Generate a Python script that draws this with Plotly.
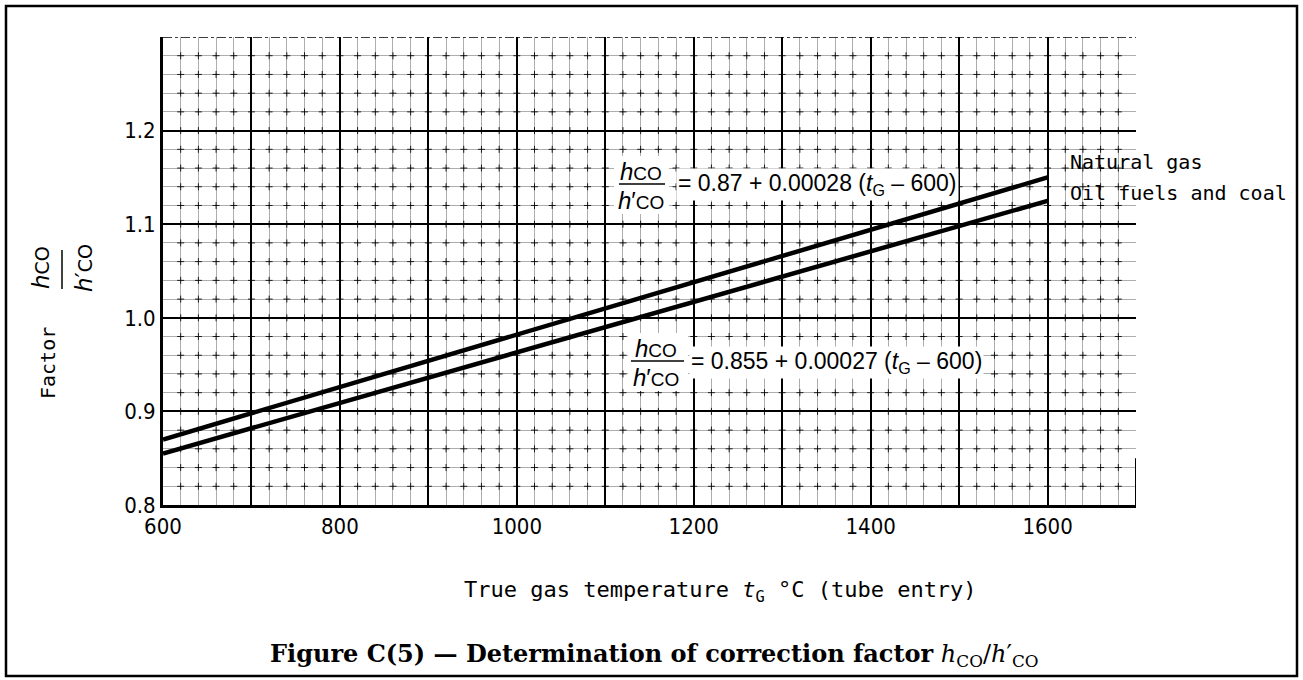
import numpy as np
import plotly.graph_objects as go

# ---------------- data ----------------
temperature = [600, 1600]
natural_gas = [0.87, 1.15]
oil_fuels_coal = [0.855, 1.125]
series_names = ["Natural gas", "Oil fuels and coal"]

x_tick_values = [600, 700, 800, 900, 1000, 1100, 1200, 1300, 1400, 1500, 1600]
x_tick_labels = ["600", "", "800", "", "1000", "", "1200", "", "1400", "", "1600"]
y_tick_values = [0.8, 0.9, 1.0, 1.1, 1.2]
y_tick_labels = ["0.8", "0.9", "1.0", "1.1", "1.2"]

x_range = [600, 1700]
y_range = [0.8, 1.3]
x_minor_step = 20
y_minor_step = 0.02

# ---------------- geometry (page pixels) ----------------
W, H = 1303, 680
L, R, T, B = 163, 1136, 37, 505   # plot area in page pixels


def px(x):
    return (x - L) / (R - L)


def py(y):
    return (B - y) / (B - T)


ISO = "DejaVu Sans Mono, monospace"
ISO_P = "DejaVu Sans, sans-serif"
NARROW = "Liberation Sans Narrow, DejaVu Sans Condensed, Arial Narrow, sans-serif"
HELV = "Liberation Sans, Arial, Helvetica, sans-serif"
SERIF = "DejaVu Serif, Century Schoolbook, serif"

fig = go.Figure()

# cross marks at the minor grid intersections
gx = np.arange(x_range[0] + x_minor_step, x_range[1], x_minor_step)
gy = np.arange(y_range[0] + y_minor_step, y_range[1] - 1e-9, y_minor_step)
GX, GY = np.meshgrid(gx, gy)
fig.add_trace(go.Scatter(
    x=GX.ravel(), y=GY.ravel(), mode="markers",
    marker=dict(symbol="cross-thin", size=5, color="black",
                line=dict(width=1, color="rgba(0,0,0,0.85)")),
    hoverinfo="skip", showlegend=False))

for name, vals in zip(series_names, [natural_gas, oil_fuels_coal]):
    fig.add_trace(go.Scatter(
        x=temperature, y=vals, mode="lines", name=name,
        line=dict(color="black", width=4.5), showlegend=False,
        hoverinfo="skip"))

fig.update_layout(
    width=W, height=H,
    margin=dict(l=L, r=W - R, t=T, b=H - B),
    paper_bgcolor="white", plot_bgcolor="white",
    showlegend=False,
)

fig.update_xaxes(
    range=x_range, tickmode="array", tickvals=x_tick_values, ticktext=x_tick_labels,
    showgrid=True, gridcolor="black", gridwidth=1.6,
    showline=True, linecolor="black", linewidth=3,
    ticks="", ticklabelstandoff=0, zeroline=False,
    tickfont=dict(family=NARROW, size=22, color="black"),
    minor=dict(tick0=600, dtick=x_minor_step, showgrid=True,
               gridcolor="rgba(0,0,0,0.32)", gridwidth=1),
)
fig.update_yaxes(
    range=y_range, tickmode="array", tickvals=y_tick_values, ticktext=y_tick_labels,
    showgrid=True, gridcolor="black", gridwidth=1.6,
    showline=True, linecolor="black", linewidth=3,
    ticks="", ticklabelstandoff=0, zeroline=False,
    tickfont=dict(family=NARROW, size=22, color="black"),
    minor=dict(tick0=0.8, dtick=y_minor_step, showgrid=True,
               gridcolor="rgba(0,0,0,0.32)", gridwidth=1),
)


def rect(x0, x1, y0, y1, fill="white", line=None):
    fig.add_shape(type="rect", xref="paper", yref="paper",
                  x0=px(x0), x1=px(x1), y0=py(y1), y1=py(y0),
                  fillcolor=fill, line=line or dict(width=0), layer="above")


def bar(x0, x1, y0, y1, width=1.5):
    fig.add_shape(type="line", xref="paper", yref="paper", x0=px(x0), x1=px(x1),
                  y0=py(y0), y1=py(y1), line=dict(color="black", width=width))


# outer frame
fig.add_shape(type="rect", xref="paper", yref="paper",
              x0=px(6), x1=px(1297), y0=py(676), y1=py(6),
              line=dict(color="black", width=2.5))
# top edge of the chart paper
fig.add_shape(type="line", xref="x", yref="y", x0=x_range[0], x1=x_range[1],
              y0=y_range[1], y1=y_range[1],
              line=dict(color="black", width=1.5, dash="dashdot"))
# short right edge
fig.add_shape(type="line", xref="x", yref="y", x0=x_range[1], x1=x_range[1],
              y0=0.8, y1=0.85, line=dict(color="black", width=2))

# white backgrounds behind the fraction parts of the formulas
rect(614, 669, 156, 214)
rect(628, 688, 333, 391)
bar(619, 665, 184, 184)
bar(631, 684, 361, 361)


def ann(x, y, text, size, family, xanchor="center", angle=0, bg=None):
    fig.add_annotation(x=px(x), y=py(y), xref="paper", yref="paper", text=text,
                       showarrow=False, xanchor=xanchor, yanchor="middle",
                       textangle=angle, bgcolor=bg, borderpad=1,
                       font=dict(size=size, family=family, color="black"))


# series labels
ann(1068, 162, series_names[0], 20, ISO, xanchor="left")
ann(1068, 193, series_names[1], 20, ISO, xanchor="left")

NUM = "<i>h</i><span style='font-size:19px'>CO</span>"
DEN = "<i>h</i>′<span style='font-size:19px'>CO</span>"

# upper formula
ann(641, 171, NUM, 24, HELV)
ann(641, 200, DEN, 24, HELV)
ann(676, 184, "= 0.87 + 0.00028 (<i>t</i><sub>G</sub> – 600)", 23, HELV,
    xanchor="left", bg="white")

# lower formula
ann(656, 348, NUM, 24, HELV)
ann(656, 377, DEN, 24, HELV)
ann(689, 362, "= 0.855 + 0.00027 (<i>t</i><sub>G</sub> – 600)", 23, HELV,
    xanchor="left", bg="white")

# y-axis title
ann(48, 363, "Factor", 20, ISO, angle=-90)
ann(41, 268, "<i>h</i><span style='font-size:19px'>CO</span>", 23, ISO_P, angle=-90)
ann(84, 268, "<i>h</i>′<span style='font-size:19px'>CO</span>", 23, ISO_P, angle=-90)
bar(62, 62, 250, 289)

# x-axis title
ann(720, 591, "True gas temperature <i>t</i><sub>G</sub> °C (tube entry)", 22, ISO)

# caption
ann(654, 655, "<b>Figure C(5) — Determination of correction factor</b> "
              "<i>h</i><sub>CO</sub>/<i>h</i>′<sub>CO</sub>", 24, SERIF)

fig.write_html(
    "out.html",
    config={"displayModeBar": False},
    post_script="document.body.style.margin='0';document.body.style.overflow='hidden';",
)
